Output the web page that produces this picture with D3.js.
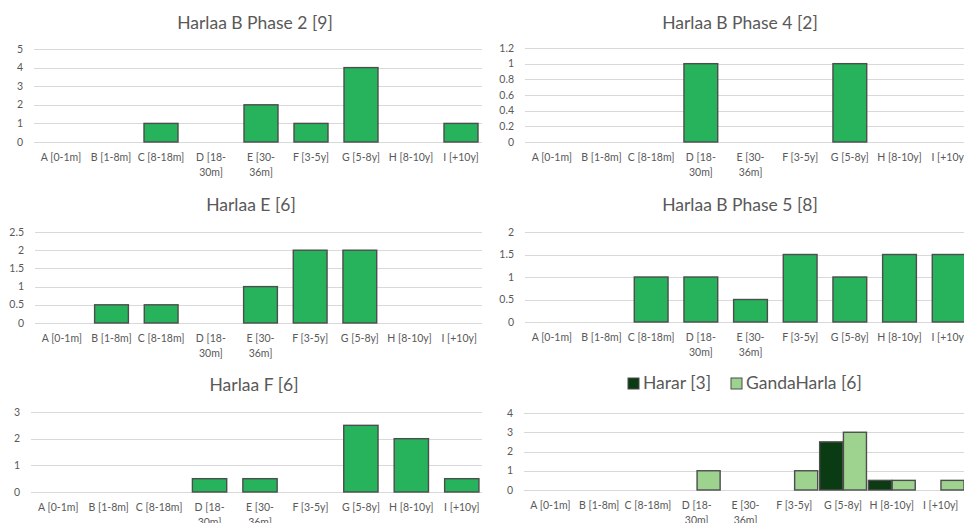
<!DOCTYPE html>
<html>
<head>
<meta charset="utf-8">
<script src="https://cdn.jsdelivr.net/npm/d3@7"></script>
<style>
  body { margin: 0; background: #fff; }
  text { font-family: Lato, "Liberation Sans", sans-serif; fill: #595959; }
</style>
</head>
<body>
<script>
var categories = ["A [0-1m]", "B [1-8m]", "C [8-18m]", "D [18-30m]", "E [30-36m]",
                  "F [3-5y]", "G [5-8y]", "H [8-10y]", "I [+10y]"];

var phase2 = [0, 0, 1, 0, 2, 1, 4, 0, 1];
var phase4 = [0, 0, 0, 1, 0, 0, 1, 0, 0];
var harlaaE = [0, 0.5, 0.5, 0, 1, 2, 2, 0, 0];
var phase5 = [0, 0, 1, 1, 0.5, 1.5, 1, 1.5, 1.5];
var harlaaF = [0, 0, 0, 0.5, 0.5, 0, 2.5, 2, 0.5];
var harar = [0, 0, 0, 0, 0, 0, 2.5, 0.5, 0];
var gandaHarla = [0, 0, 0, 1, 0, 1, 3, 0.5, 0.5];

var titles = ["Harlaa B Phase 2 [9]", "Harlaa B Phase 4 [2]", "Harlaa E [6]",
              "Harlaa B Phase 5 [8]", "Harlaa F [6]"];
var legendNames = ["Harar [3]", "GandaHarla [6]"];
var yMaxes = [5, 1.2, 2.5, 2, 3, 4];
var yStepsTick = [1, 0.2, 0.5, 0.5, 1, 1];

var green = "#27b35b", darkGreen = "#0a3b12", lightGreen = "#9dd38f";

var svg = d3.select("body").append("svg")
    .attr("width", 964)
    .attr("height", 523);

// panel frames: plot area and title position
var panels = [
  {x0: 36,  x1: 486, yTop: 49,  yBot: 142, clipX: 0,   clipW: 482, tx: 255, ty: 29, series: [phase2]},
  {x0: 527, x1: 974, yTop: 48,  yBot: 142, clipX: 482, clipW: 482, tx: 740, ty: 29, series: [phase4]},
  {x0: 37,  x1: 484, yTop: 232, yBot: 323, clipX: 0,   clipW: 482, tx: 251, ty: 211, series: [harlaaE]},
  {x0: 527, x1: 974, yTop: 232, yBot: 322, clipX: 482, clipW: 482, tx: 740, ty: 211, series: [phase5]},
  {x0: 33,  x1: 487, yTop: 412, yBot: 492, clipX: 0,   clipW: 482, tx: 254, ty: 391, series: [harlaaF]},
  {x0: 526, x1: 965, yTop: 413, yBot: 490, clipX: 482, clipW: 482, tx: 740, ty: 389, series: [harar, gandaHarla]}
];

panels.forEach(function(p, i) {
  svg.append("clipPath").attr("id", "clip" + i)
    .append("rect")
    .attr("x", p.clipX).attr("y", 0)
    .attr("width", p.clipW).attr("height", 523);

  var g = svg.append("g").attr("clip-path", "url(#clip" + i + ")");

  var y = d3.scaleLinear().domain([0, yMaxes[i]]).range([p.yBot, p.yTop]);
  var ticks = d3.range(0, yMaxes[i] + 1e-9, yStepsTick[i]);

  var x = d3.scaleBand().domain(categories).range([p.x0, p.x1]);

  // gridlines
  g.selectAll(".grid").data(ticks).enter().append("line")
    .attr("x1", p.x0 - 2).attr("x2", p.x1)
    .attr("y1", function(d) { return Math.round(y(d)) + 0.5; })
    .attr("y2", function(d) { return Math.round(y(d)) + 0.5; })
    .attr("stroke", "#d9d9d9")
    .attr("stroke-width", 1);

  // y tick labels
  g.selectAll(".ylab").data(ticks).enter().append("text")
    .attr("x", p.x0 - 13)
    .attr("y", function(d) { return y(d); })
    .attr("dy", "0.35em")
    .attr("text-anchor", "end")
    .attr("font-size", 10.5)
    .text(function(d) { return +d.toFixed(1); });

  // x tick labels, long ones broken after the hyphen
  categories.forEach(function(c) {
    var lines = c.length > 9 ? [c.slice(0, c.indexOf("-") + 1), c.slice(c.indexOf("-") + 1)] : [c];
    var t = g.append("text")
      .attr("text-anchor", "middle")
      .attr("font-size", 10.5)
      .attr("x", x(c) + x.bandwidth() / 2)
      .attr("y", p.yBot + 19);
    lines.forEach(function(l, k) {
      t.append("tspan")
        .attr("x", x(c) + x.bandwidth() / 2)
        .attr("dy", k === 0 ? 0 : 15)
        .text(l);
    });
  });

  // bars
  if (p.series.length === 1) {
    x.paddingInner(0.32).paddingOuter(0.16);
    g.selectAll(".bar").data(p.series[0].map(function(v, k) { return {c: categories[k], v: v}; })
        .filter(function(d) { return d.v > 0; }))
      .enter().append("rect")
      .attr("x", function(d) { return x(d.c); })
      .attr("width", x.bandwidth())
      .attr("y", function(d) { return y(d.v); })
      .attr("height", function(d) { return y(0) - y(d.v); })
      .attr("fill", green)
      .attr("stroke", "#4d4d4d")
      .attr("stroke-width", 1.4);
  } else {
    x.paddingInner(0.04).paddingOuter(0.02);
    var colors = [darkGreen, lightGreen];
    var inner = d3.scaleBand().domain([0, 1]).range([0, x.bandwidth()]).paddingInner(0.03);
    p.series.forEach(function(s, si) {
      g.selectAll(".bar" + si).data(s.map(function(v, k) { return {c: categories[k], v: v}; })
          .filter(function(d) { return d.v > 0; }))
        .enter().append("rect")
        .attr("x", function(d) { return x(d.c) + inner(si); })
        .attr("width", inner.bandwidth())
        .attr("y", function(d) { return y(d.v); })
        .attr("height", function(d) { return y(0) - y(d.v); })
        .attr("fill", colors[si])
        .attr("stroke", "#4d4d4d")
        .attr("stroke-width", 1.4);
    });
  }

  // title or legend
  if (i < 5) {
    g.append("text")
      .attr("x", p.tx).attr("y", p.ty)
      .attr("text-anchor", "middle")
      .attr("font-size", 17.5)
      .text(titles[i]);
  } else {
    var lx = [628, 731];
    legendNames.forEach(function(name, k) {
      g.append("rect")
        .attr("x", lx[k]).attr("y", p.ty - 11)
        .attr("width", 11).attr("height", 11)
        .attr("fill", k === 0 ? darkGreen : lightGreen)
        .attr("stroke", "#4d4d4d").attr("stroke-width", 1);
      g.append("text")
        .attr("x", lx[k] + 15).attr("y", p.ty)
        .attr("font-size", 17.5)
        .text(name);
    });
  }
});
</script>
</body>
</html>
